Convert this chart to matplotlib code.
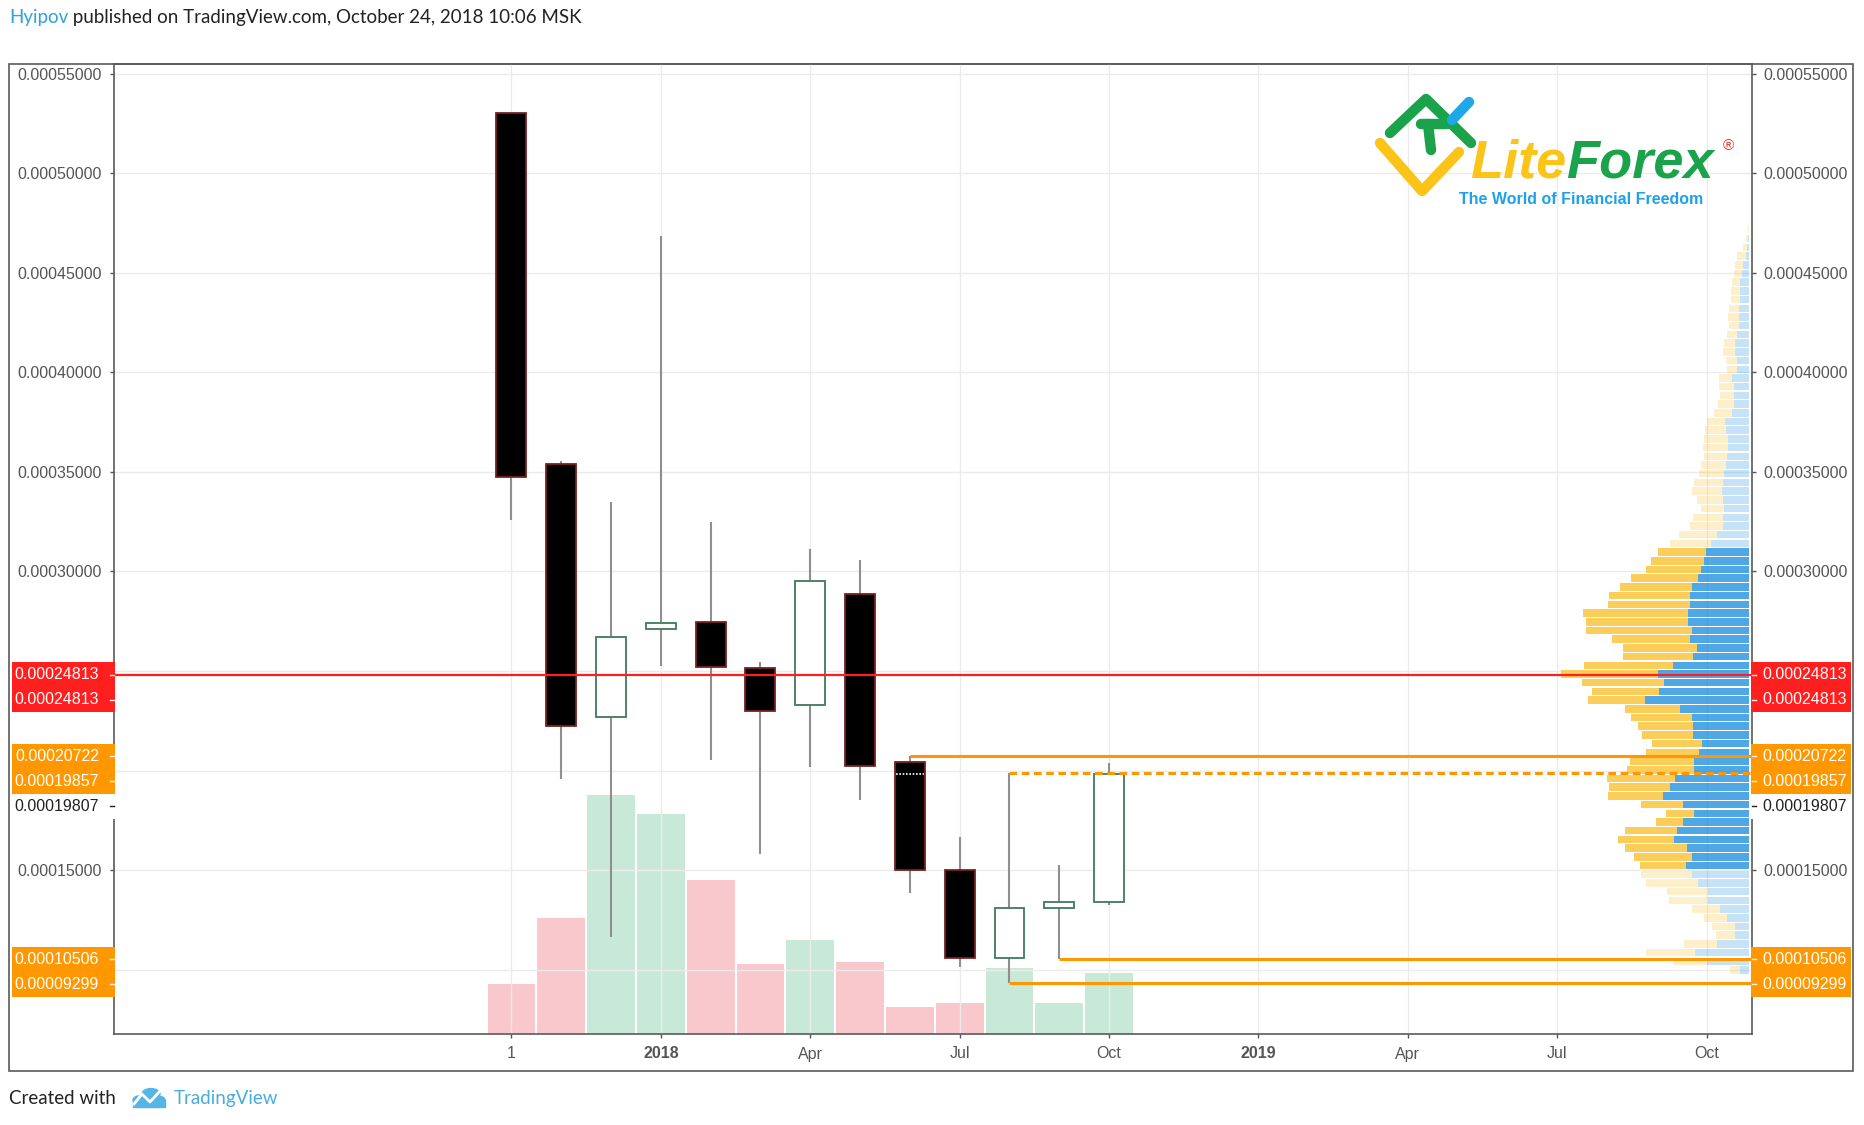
import matplotlib
matplotlib.use("Agg")
import matplotlib.pyplot as plt
import numpy as np
from matplotlib.patches import Rectangle, Circle
from matplotlib.lines import Line2D
from matplotlib.colors import to_rgba

plt.rcParams['font.family'] = ['Liberation Sans', 'DejaVu Sans']

W, H = 1864, 1125

# monthly candles, Oct 2017 .. Oct 2018 (x = months since Oct 2017)
months = ["Oct 17", "Nov 17", "Dec 17", "Jan 18", "Feb 18", "Mar 18", "Apr 18",
          "May 18", "Jun 18", "Jul 18", "Aug 18", "Sep 18", "Oct 18"]
month_idx = list(range(len(months)))
opens = [0.0005304, 0.0003539, 0.0002270, 0.0002712, 0.0002745, 0.0002515, 0.0002328,
         0.0002885, 0.0002043, 0.0001500, 0.0001056, 0.0001307, 0.0001338]
highs = [0.0005304, 0.0003555, 0.0003350, 0.0004686, 0.0003247, 0.0002547, 0.0003115,
         0.0003058, 0.00020722, 0.0001667, 0.00019857, 0.0001527, 0.0002039]
lows = [0.0003259, 0.0001957, 0.0001165, 0.0002525, 0.0002053, 0.0001579, 0.0002019,
        0.0001852, 0.0001386, 0.0001011, 0.00009299, 0.00010506, 0.0001324]
closes = [0.0003475, 0.0002225, 0.0002670, 0.0002739, 0.0002518, 0.0002297, 0.0002950,
          0.0002023, 0.0001500, 0.0001056, 0.0001311, 0.0001341, 0.00019807]
volumes = [50, 116, 239, 220, 154, 70, 94, 72, 27, 31, 66, 31, 61]

tick_pos = [0, 3, 6, 9, 12, 15, 18, 21, 24]
tick_labels = ["1", "2018", "Apr", "Jul", "Oct", "2019", "Apr", "Jul", "Oct"]

# volume profile rows, from the highest price row to the lowest
vp_top, vp_bottom = 0.0004716, 0.00009975
vp_up = [0, 1.3, 2, 3.7, 6, 7, 9.3, 9.3, 9.3, 10.3, 10.7, 10.3, 12, 14.3, 14.3, 12.7,
         12.7, 17, 15.3, 15, 15, 17, 24.3, 23.7, 21, 21, 22.7, 23.7, 25, 26.7, 27.7, 26,
         25.3, 26.7, 26, 32.7, 38.3, 43.3, 45, 48.7, 51.7, 57, 59.3, 59.3, 61.7, 61,
         57.7, 59.3, 52.7, 56, 76.7, 91.7, 85.3, 90, 104.3, 69.3, 57.7, 56, 56, 47,
         50.3, 55, 55, 74, 79.7, 86.7, 66, 55.7, 66.7, 72.3, 75.3, 62, 57.7, 63.3,
         57.7, 51, 41, 41, 29.3, 22.7, 14.3, 14.3, 32, 54.3, 42.7, 9.3]
vp_down = [1, 2, 4, 8.3, 8.3, 8, 7.7, 9, 9, 9.7, 11, 10, 10.3, 10.7, 11.7, 11, 10,
           13.3, 15, 14.3, 16, 18.3, 18.3, 20.7, 24.7, 25, 22.7, 25, 25, 28.7, 29.7,
           26.7, 23, 29.3, 33.3, 38, 41, 48.3, 53, 55, 66.7, 72.3, 80.7, 81.7, 104.3,
           102.3, 105.7, 77.7, 74, 70, 88.3, 97, 82.3, 67.7, 57.3, 55.3, 60.3, 55.3, 51,
           50, 52.7, 64, 67, 68, 60.3, 54.7, 42, 27.7, 26.3, 52, 56, 62, 57.3, 45.7, 51,
           52.7, 41.3, 39.3, 28.3, 23, 23.3, 19, 33, 49.3, 33.3, 10]
va_low, va_high = 0.000152, 0.000310

poc_price = 0.00024813
levels = [(0.00020722, 8, '-'), (0.00019857, 10, '--'), (0.00010506, 11, '-'), (0.00009299, 10, '-')]
last_price = 0.00019807

RED = '#ff1f1f'
ORANGE = '#ff9800'


def fx(px):
    return px / W


def fy(py):
    return 1 - py / H


fig = plt.figure(figsize=(W / 100, H / 100), dpi=100, facecolor='white')
ax = fig.add_axes([fx(114), fy(1034), fx(1752) - fx(114), fy(64) - fy(1034)])
ax.set_xlim(-7.98, 24.91)
ax.set_ylim(0.0000676, 0.000555)

# volume bars on a hidden twin axis below the candles
axv = ax.twinx()
axv.set_zorder(0)
ax.set_zorder(1)
ax.patch.set_visible(False)
vol_colors = ['#c9e9d8' if c >= o else '#f9c8cd' for o, c in zip(opens, closes)]
axv.bar(month_idx, volumes, width=0.96, color=vol_colors)
axv.set_ylim(0, 970)
axv.axis('off')

# candles
for i, o, h, l, c in zip(month_idx, opens, highs, lows, closes):
    bull = c >= o
    ax.vlines(i, l, h, colors='#8f8f8f', lw=1.5, zorder=3)
    ax.add_patch(Rectangle((i - 0.3, min(o, c)), 0.6, abs(c - o),
                           facecolor='white' if bull else 'black',
                           edgecolor='#3f7a5e' if bull else '#7a2020', lw=1.3, zorder=4))

# volume profile on the right
axp = ax.inset_axes([(1549.3 - 114) / 1638, 0, 200 / 1638, 1], zorder=2.5)
axp.set_ylim(ax.get_ylim())
axp.set_xlim(200, 0)
axp.axis('off')
prices = np.linspace(vp_top, vp_bottom, len(vp_up))
step = (vp_top - vp_bottom) / (len(vp_up) - 1)
inside = (prices >= va_low) & (prices <= va_high)
alphas = np.where(inside, 0.78, 0.25)
up_cols = [to_rgba('#1e8fe0', a) for a in alphas]
dn_cols = [to_rgba('#fbc02d', a) for a in alphas]
axp.barh(prices, vp_up, height=step * 0.86, left=0, color=up_cols)
axp.barh(prices, vp_down, height=step * 0.86, left=vp_up, color=dn_cols)

# price levels
ax.axhline(poc_price, color=RED, lw=1.6, zorder=6)
for price, start, ls in levels:
    ax.hlines(price, start, ax.get_xlim()[1], colors=ORANGE, lw=2.2,
              linestyles=(0, (2.5, 1.5)) if ls == '--' else '-', zorder=6)
ax.hlines(last_price, 8 - 0.28, 8 + 0.28, colors='white', lw=1.2, linestyles=(0, (1, 1)), zorder=5)

# axes styling
yt = [0.0001, 0.00015, 0.0002, 0.00025, 0.0003, 0.00035, 0.0004, 0.00045, 0.0005, 0.00055]
hidden = [0.0001, 0.0002, 0.00025]
ax.set_yticks(yt)
ax.set_yticklabels(['' if v in hidden else f"{v:.8f}" for v in yt])
ax.set_xticks(tick_pos)
ax.set_xticklabels(tick_labels)
for lab in ax.get_xticklabels():
    if lab.get_text() in ("2018", "2019"):
        lab.set_fontweight('bold')
ax.tick_params(axis='y', left=True, right=True, labelleft=True, labelright=True,
               length=3, width=1, color='#555555', labelcolor='#555555', labelsize=11.5, pad=5.5)
ax.tick_params(axis='x', length=3, width=1, color='#555555', labelcolor='#555555',
               labelsize=11.5, pad=6)
ax.grid(True, color='#ebebeb', lw=1)
ax.set_axisbelow(True)
for sp in ax.spines.values():
    sp.set_color('#5a5a5a')
    sp.set_linewidth(1.2)

# outer frame
fig.add_artist(Rectangle((fx(9), fy(1071)), fx(1853) - fx(9), fy(64) - fy(1071),
                         transform=fig.transFigure, fill=False, ec='#5a5a5a', lw=1.2))

# axis price labels, stacked so that they do not overlap
labels = [("0.00024813", poc_price, RED, 'white'),
          ("0.00024813", poc_price, RED, 'white'),
          ("0.00020722", 0.00020722, ORANGE, 'white'),
          ("0.00019857", 0.00019857, ORANGE, 'white'),
          ("0.00019807", last_price, 'white', '#222222'),
          ("0.00010506", 0.00010506, ORANGE, 'white'),
          ("0.00009299", 0.00009299, ORANGE, 'white')]
prev = None
for txt, price, bg, fg in labels:
    y = ax.transData.transform((0, price))[1]
    if prev is not None:
        y = min(y, prev - 25)
    prev = y
    yf = y / H
    for x0, x1, xt, ha, t0, t1 in [(12, 115, 99, 'right', 110, 114), (1751, 1851, 1762, 'left', 1752, 1756)]:
        fig.add_artist(Rectangle((fx(x0), yf - 12.5 / H), fx(x1) - fx(x0), 25 / H,
                                 transform=fig.transFigure, fc=bg, ec='none', zorder=10))
        fig.text(fx(xt), yf, txt, ha=ha, va='center', color=fg, fontsize=11.5, zorder=11)
        fig.add_artist(Line2D([fx(t0), fx(t1)], [yf, yf], transform=fig.transFigure,
                              color='#f5f5f5' if bg != 'white' else '#222222', lw=1, zorder=11))

# header
t1 = fig.text(fx(9), fy(17.5), "Hyipov", color='#2ea3dd', fontsize=13.5, family='Lato', va='center')
fig.canvas.draw()
bb = t1.get_window_extent()
fig.text(bb.x1 / W, fy(17.5), " published on TradingView.com, October 24, 2018 10:06 MSK",
         color='#222222', fontsize=13.5, family='Lato', va='center')

# footer
fig.text(fx(9), fy(1098.5), "Created with", color='#222222', fontsize=13.5, family='Lato', va='center')
for cx, cy, r in [(140, 1100, 7), (151, 1094, 9), (159, 1100, 6)]:
    fig.add_artist(Circle((fx(cx), fy(cy)), r / W, transform=fig.transFigure, color='#55b6e6'))
fig.add_artist(Rectangle((fx(133), fy(1107)), fx(165) - fx(133), 7 / H, transform=fig.transFigure,
                         color='#55b6e6'))
fig.add_artist(Line2D([fx(134), fx(142), fx(150), fx(160)], [fy(1104), fy(1094), fy(1102), fy(1091)],
                      transform=fig.transFigure, color='white', lw=2))
fig.text(fx(174), fy(1098.5), "TradingView", color='#47ace0', fontsize=13.5, family='Lato', va='center')

# LiteForex logo
logo_lines = [([(1380, 143), (1422, 191), (1459, 152)], '#fcc419'),
              ([(1390, 133), (1426, 99), (1471, 143)], '#1aa34a'),
              ([(1421, 124), (1447, 124)], '#1aa34a'),
              ([(1428, 124), (1431, 150)], '#1aa34a'),
              ([(1452, 120), (1469, 102)], '#1fa8e8')]
for pts, col in logo_lines:
    fig.add_artist(Line2D([fx(p[0]) for p in pts], [fy(p[1]) for p in pts], transform=fig.transFigure,
                          color=col, lw=7.5, solid_capstyle='round', solid_joinstyle='round', zorder=8))
lt = fig.text(fx(1470), fy(178), "Lite", color='#fcc419', fontsize=39, fontweight='bold',
              fontstyle='italic', va='baseline', zorder=8)
fig.canvas.draw()
bb = lt.get_window_extent()
ft = fig.text(bb.x1 / W, fy(178), "Forex", color='#1aa34a', fontsize=39, fontweight='bold',
              fontstyle='italic', va='baseline', zorder=8)
fig.text(fx(1728), fy(146), "®", color='#e53935', fontsize=11, ha='center', va='center', zorder=8)
fig.text(fx(1459), fy(199), "The World of Financial Freedom", color='#1ea1e8', fontsize=11.5,
         fontweight='bold', va='center', zorder=8)

fig.savefig("out.png", dpi=100, facecolor='white')
